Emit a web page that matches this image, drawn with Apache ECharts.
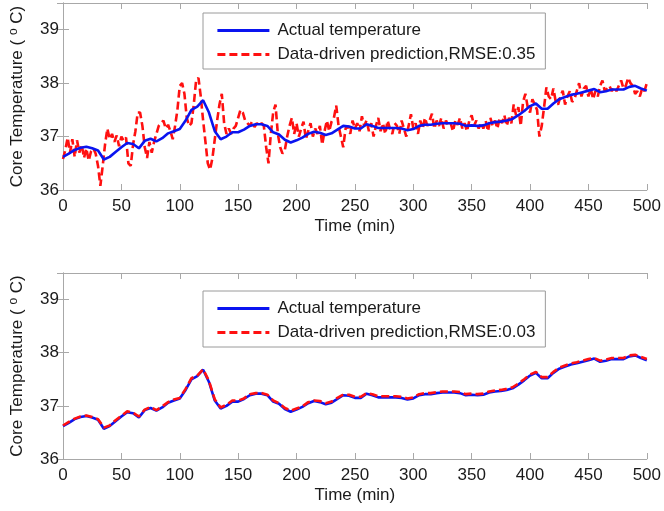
<!DOCTYPE html>
<html>
<head>
<meta charset="utf-8">
<script src="https://cdn.jsdelivr.net/npm/echarts@6/dist/echarts.min.js"></script>
<style>html,body{margin:0;padding:0;background:#fff;}#c{width:664px;height:511px;}</style>
</head>
<body>
<div id="c"></div>
<script>
// Time axis (min)
const timeActual = [];
for (let t = 0; t <= 500; t += 5) timeActual.push(t);
const timeNoisy = [];
for (let t = 0; t <= 500; t += 2) timeNoisy.push(t);

// Actual core temperature (every 5 min)
const actualTemp = [
  36.62,36.68,36.75,36.79,36.81,36.78,36.74,36.57,36.62,36.71,
  36.80,36.88,36.86,36.78,36.92,36.96,36.91,36.97,37.06,37.10,
  37.14,37.30,37.50,37.56,37.68,37.45,37.10,36.95,37.00,37.08,
  37.08,37.13,37.20,37.23,37.23,37.20,37.08,37.04,36.94,36.89,
  36.93,36.98,37.05,37.09,37.07,37.03,37.06,37.13,37.20,37.19,
  37.15,37.15,37.23,37.20,37.16,37.16,37.16,37.16,37.15,37.12,
  37.14,37.20,37.22,37.22,37.24,37.25,37.25,37.25,37.24,37.20,
  37.21,37.20,37.21,37.25,37.27,37.28,37.30,37.33,37.40,37.48,
  37.57,37.62,37.52,37.52,37.62,37.70,37.74,37.78,37.80,37.83,
  37.86,37.89,37.83,37.85,37.88,37.88,37.88,37.93,37.95,37.90,
  37.86
];

// Top: noisy data-driven prediction (every 2 min), RMSE 0.35
const predNoisy = [
  36.58,36.75,36.98,36.70,36.95,36.62,36.93,36.70,36.85,36.60,
  36.78,36.55,36.72,36.78,36.68,36.45,36.08,36.45,36.85,37.15,
  36.95,37.05,36.90,37.02,36.82,37.00,36.92,36.98,36.50,36.45,
  36.85,37.10,37.45,37.45,37.20,36.80,36.60,36.90,36.70,36.90,
  37.05,37.20,37.25,37.30,37.15,37.22,37.10,36.95,37.20,37.50,
  37.95,38.00,37.80,37.35,37.20,37.25,37.60,38.05,38.10,37.75,
  37.30,36.90,36.50,36.38,36.60,36.95,37.30,37.60,37.80,37.25,
  37.05,37.15,37.05,37.15,37.20,37.35,37.50,37.45,37.30,37.25,
  37.20,37.28,37.18,37.25,37.22,37.25,37.20,36.80,36.50,37.05,
  37.45,37.60,37.05,36.80,36.68,36.75,37.00,37.20,37.35,37.05,
  37.25,37.00,37.15,37.28,36.95,37.10,37.25,37.00,37.15,37.05,
  37.20,36.85,37.10,37.30,37.10,37.28,37.35,37.58,37.20,37.00,
  36.80,37.15,37.20,37.05,37.30,37.15,37.25,37.10,37.38,37.20,
  37.30,37.10,37.25,37.00,37.20,37.35,37.10,37.25,37.05,37.30,
  37.15,37.05,37.25,37.20,37.05,37.30,37.15,37.00,37.20,37.42,
  37.15,37.25,37.05,37.30,37.15,37.35,37.20,37.30,37.43,37.15,
  37.30,37.20,37.35,37.15,37.30,37.20,37.25,37.10,37.30,37.22,
  37.35,37.15,37.25,37.10,37.30,37.40,37.20,37.30,37.15,37.25,
  37.15,37.30,37.10,37.35,37.20,37.30,37.15,37.35,37.25,37.40,
  37.20,37.35,37.25,37.60,37.40,37.55,37.20,37.65,37.80,37.55,
  37.45,37.70,37.60,37.50,37.00,37.20,37.55,37.92,37.75,37.70,
  37.90,37.65,37.60,37.75,37.86,37.60,37.75,37.85,37.65,37.70,
  37.85,38.00,37.75,37.90,37.95,37.75,37.90,37.70,37.85,37.75,
  37.95,38.05,37.85,37.90,37.95,37.85,37.92,37.85,37.95,38.05,
  37.90,37.95,38.10,38.00,37.95,37.80,37.85,37.75,37.90,37.85,
  38.00
];

// Bottom: accurate data-driven prediction (every 5 min), RMSE 0.03
const predAccurate = [
  36.63,36.70,36.76,36.80,36.82,36.79,36.75,36.59,36.63,36.73,
  36.81,36.90,36.87,36.80,36.93,36.98,36.92,36.99,37.07,37.12,
  37.15,37.32,37.52,37.57,37.69,37.47,37.12,36.97,37.02,37.10,
  37.10,37.14,37.22,37.24,37.24,37.21,37.10,37.05,36.96,36.91,
  36.95,36.99,37.07,37.10,37.09,37.05,37.08,37.15,37.21,37.21,
  37.17,37.17,37.24,37.22,37.18,37.18,37.18,37.18,37.17,37.14,
  37.16,37.22,37.24,37.24,37.26,37.27,37.27,37.27,37.26,37.22,
  37.23,37.22,37.23,37.27,37.29,37.30,37.32,37.35,37.42,37.50,
  37.59,37.64,37.54,37.54,37.64,37.72,37.76,37.80,37.82,37.85,
  37.88,37.90,37.85,37.87,37.90,37.90,37.90,37.95,37.96,37.92,
  37.88
];

const legendActual = 'Actual temperature';
const legendPredTop = 'Data-driven prediction,RMSE:0.35';
const legendPredBottom = 'Data-driven prediction,RMSE:0.03';
const yTickLabels = [36, 37, 38, 39];
const xTickLabels = [0, 50, 100, 150, 200, 250, 300, 350, 400, 450, 500];

const pair = (xs, ys) => xs.map((x, i) => [x, ys[i]]);
const FONT = 'Liberation Sans, Arial, sans-serif';
const frame = '#a8a8a8';

function xAxes(gi) {
  return [
    {
      type: 'value', gridIndex: gi, position: 'bottom', min: 0, max: 500, interval: 50,
      name: 'Time (min)', nameLocation: 'middle', nameGap: 28,
      nameTextStyle: { fontFamily: FONT, fontSize: 17, color: '#1a1a1a' },
      axisLine: { show: true, lineStyle: { color: frame, width: 1 } },
      axisTick: { show: true, inside: true, length: 6, lineStyle: { color: frame } },
      axisLabel: { fontFamily: FONT, fontSize: 17, color: '#1a1a1a', margin: 8,
        formatter: v => xTickLabels.includes(v) ? String(v) : '' },
      splitLine: { show: false }
    },
    {
      type: 'value', gridIndex: gi, position: 'top', min: 0, max: 500, interval: 50,
      axisLine: { show: true, lineStyle: { color: frame, width: 1 } },
      axisTick: { show: true, inside: true, length: 6, lineStyle: { color: frame } },
      axisLabel: { show: false }, splitLine: { show: false }
    }
  ];
}
function yAxes(gi) {
  return [
    {
      type: 'value', gridIndex: gi, position: 'left', min: 36, max: 39.5, interval: 1,
      name: '{a|Core Temperature ( }{s|o}{a| C)}', nameLocation: 'middle', nameGap: 36, nameRotate: 90,
      nameTextStyle: { rich: {
        a: { fontFamily: FONT, fontSize: 17, color: '#1a1a1a' },
        s: { fontFamily: FONT, fontSize: 12, color: '#1a1a1a', verticalAlign: 'top', padding: [0, 0, 7, 0] }
      } },
      axisLine: { show: true, lineStyle: { color: frame, width: 1 } },
      axisTick: { show: true, inside: true, length: 6, lineStyle: { color: frame } },
      axisLabel: { fontFamily: FONT, fontSize: 17, color: '#1a1a1a', margin: 4,
        formatter: v => yTickLabels.includes(v) ? String(v) : '' },
      splitLine: { show: false }
    },
    {
      type: 'value', gridIndex: gi, position: 'right', min: 36, max: 39.5, interval: 1,
      axisLine: { show: true, lineStyle: { color: frame, width: 1 } },
      axisTick: { show: true, inside: true, length: 6, lineStyle: { color: frame } },
      axisLabel: { show: false }, splitLine: { show: false }
    }
  ];
}

const blueStyle = { color: '#0a14f0', width: 2.6, type: 'solid' };
const redStyle = { color: '#ff1010', width: 2.6, type: [8, 4] };

function legendFor(top, names) {
  return {
    data: names, orient: 'vertical', left: 203, top: top,
    backgroundColor: '#fff', borderColor: '#9a9a9a', borderWidth: 1, borderRadius: 0,
    padding: [9, 10, 6, 13], itemGap: 7, itemWidth: 52, itemHeight: 18,
    itemStyle: { color: 'rgba(0,0,0,0)', borderColor: 'rgba(0,0,0,0)', borderWidth: 0 },
    lineStyle: { width: 2.8 },
    textStyle: { fontFamily: FONT, fontSize: 17, color: '#1a1a1a', padding: [0, 0, 0, 3] },
    selectedMode: false
  };
}

const chart = echarts.init(document.getElementById('c'), null, { renderer: 'canvas' });
chart.setOption({
  animation: false,
  backgroundColor: '#fff',
  grid: [
    { left: 60, right: 16, top: 3, height: 187 },
    { left: 60, right: 16, top: 273, height: 186 }
  ],
  xAxis: [...xAxes(0), ...xAxes(1)],
  yAxis: [...yAxes(0), ...yAxes(1)],
  legend: [
    legendFor(13, [legendActual, legendPredTop]),
    legendFor(291, [legendActual, legendPredBottom])
  ],
  series: [
    { name: legendActual, type: 'line', xAxisIndex: 0, yAxisIndex: 0, data: pair(timeActual, actualTemp),
      showSymbol: false, symbol: 'circle', lineStyle: blueStyle, itemStyle: { color: blueStyle.color }, z: 3 },
    { name: legendPredTop, type: 'line', xAxisIndex: 0, yAxisIndex: 0, data: pair(timeNoisy, predNoisy),
      showSymbol: false, symbol: 'circle', lineStyle: redStyle, itemStyle: { color: redStyle.color }, z: 2 },
    { name: legendActual, type: 'line', xAxisIndex: 2, yAxisIndex: 2, data: pair(timeActual, actualTemp),
      showSymbol: false, symbol: 'circle', lineStyle: blueStyle, itemStyle: { color: blueStyle.color }, z: 2 },
    { name: legendPredBottom, type: 'line', xAxisIndex: 2, yAxisIndex: 2, data: pair(timeActual, predAccurate),
      showSymbol: false, symbol: 'circle', lineStyle: redStyle, itemStyle: { color: redStyle.color }, z: 3 }
  ]
});
</script>
</body>
</html>
